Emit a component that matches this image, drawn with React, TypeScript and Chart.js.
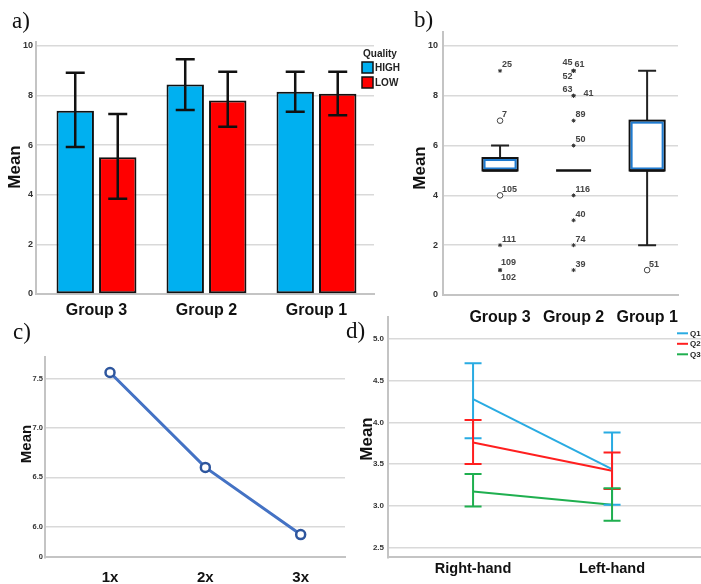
import React, { useEffect, useRef } from 'react';
import { Chart, registerables } from 'chart.js';
Chart.register(...registerables);

const SANS = "'Liberation Sans', Arial, sans-serif";
const SERIF = "'Liberation Serif', 'Times New Roman', serif";
const TICK_COLOR = '#333333';
const GRID_COLOR = '#d9d9d9';
const AXIS_COLOR = '#c4c4c4';

// ---------- Panel a: grouped bars with error bars ----------
const groupsA = ['Group 3', 'Group 2', 'Group 1'];
const qualityLabels = ['HIGH', 'LOW'];
const highMean = [7.38, 8.44, 8.15];
const highLower = [5.92, 7.41, 7.34];
const highUpper = [8.91, 9.46, 8.95];
const lowMean = [5.51, 7.79, 8.07];
const lowLower = [3.84, 6.74, 7.2];
const lowUpper = [7.25, 8.95, 8.95];
const ticksA = [0, 2, 4, 6, 8, 10];

// ---------- Panel b: box plot ----------
const groupsB = ['Group 3', 'Group 2', 'Group 1'];
const boxMin = [5, 5, 2];
const boxQ1 = [5, 5, 5];
const boxMedian = [5, 5, 5];
const boxQ3 = [5.5, 5, 7];
const boxMax = [6, 5, 9];
const ticksB = [0, 2, 4, 6, 8, 10];
// extreme values (stars)
const extremeGroup = [0, 0, 0, 0, 1, 1, 1, 1, 1, 1, 1, 1, 1, 1, 1];
const extremeValue = [9, 2, 1, 1, 9, 9, 9, 8, 8, 7, 6, 4, 3, 2, 1];
const extremeId = ['25', '111', '109', '102', '45', '61', '52', '63', '41', '89', '50', '116', '40', '74', '39'];
// outliers (circles)
const outlierGroup = [0, 0, 2];
const outlierValue = [7, 4, 1];
const outlierId = ['7', '105', '51'];

// ---------- Panel c: line ----------
const repsC = ['1x', '2x', '3x'];
const meanC = [7.56, 6.6, 5.92];
const tickValuesC = [6.0, 6.5, 7.0, 7.5];
const tickLabelsC = ['6.0', '6.5', '7.0', '7.5'];
const axisBreakLabelC = '0';

// ---------- Panel d: lines with error bars ----------
const handsD = ['Right-hand', 'Left-hand'];
const seriesD = ['Q1', 'Q2', 'Q3'];
const q1Mean = [4.28, 3.44];
const q1Lower = [3.81, 3.01];
const q1Upper = [4.71, 3.88];
const q2Mean = [3.76, 3.42];
const q2Lower = [3.5, 3.2];
const q2Upper = [4.03, 3.64];
const q3Mean = [3.17, 3.01];
const q3Lower = [2.99, 2.82];
const q3Upper = [3.38, 3.21];
const ticksD = [2.5, 3.0, 3.5, 4.0, 4.5, 5.0];

// label placement style for box plot point labels
const labelPlace: Record<string, [number, number, CanvasTextAlign]> = {
  '45': [-1, -8, 'right'],
  '52': [-1, 6, 'right'],
  '63': [-1, -6, 'right'],
  '41': [10, -2, 'left'],
  '102': [1, 7, 'left'],
  '109': [1, -8, 'left'],
  '61': [1, -6, 'left'],
};

function tickFont(size: number) {
  return { family: SANS, size, weight: 'bold' as const };
}

function ChartCanvas(props: { left: number; top: number; width: number; height: number; make: () => any }) {
  const ref = useRef<HTMLCanvasElement>(null);
  useEffect(() => {
    const chart = new Chart(ref.current as HTMLCanvasElement, props.make());
    return () => chart.destroy();
  }, []);
  return (
    <canvas
      ref={ref}
      width={props.width}
      height={props.height}
      style={{ position: 'absolute', left: props.left, top: props.top, width: props.width, height: props.height }}
    />
  );
}

function makeA() {
  const errPlugin = {
    id: 'errA',
    afterDatasetsDraw(chart: any) {
      const { ctx, scales } = chart;
      const lows = [highLower, lowLower];
      const ups = [highUpper, lowUpper];
      ctx.save();
      ctx.strokeStyle = '#111';
      ctx.lineWidth = 2.5;
      for (let d = 0; d < 2; d++) {
        const meta = chart.getDatasetMeta(d);
        meta.data.forEach((bar: any, i: number) => {
          const x = bar.x;
          const y1 = scales.y.getPixelForValue(lows[d][i]);
          const y2 = scales.y.getPixelForValue(ups[d][i]);
          ctx.beginPath();
          ctx.moveTo(x, y1);
          ctx.lineTo(x, y2);
          ctx.moveTo(x - 9.5, y1);
          ctx.lineTo(x + 9.5, y1);
          ctx.moveTo(x - 9.5, y2);
          ctx.lineTo(x + 9.5, y2);
          ctx.stroke();
        });
      }
      ctx.restore();
    },
  };
  const legendPlugin = {
    id: 'legA',
    afterDraw(chart: any) {
      const { ctx, chartArea } = chart;
      const x0 = chartArea.right - 12;
      ctx.save();
      ctx.fillStyle = '#222';
      ctx.font = `bold 10px ${SANS}`;
      ctx.textBaseline = 'middle';
      ctx.textAlign = 'left';
      ctx.fillText('Quality', x0 + 1, 54);
      chart.data.datasets.forEach((ds: any, i: number) => {
        const y = 62 + i * 15;
        ctx.fillStyle = ds.backgroundColor;
        ctx.fillRect(x0, y, 11, 11);
        ctx.strokeStyle = '#111';
        ctx.lineWidth = 1.5;
        ctx.strokeRect(x0, y, 11, 11);
        ctx.fillStyle = '#222';
        ctx.fillText(ds.label, x0 + 13, y + 6);
      });
      ctx.restore();
    },
  };
  return {
    type: 'bar',
    data: {
      datasets: [
        {
          label: qualityLabels[0],
          data: highMean.map((v, i) => ({ x: i + 1, y: v })),
          backgroundColor: '#00B0F0',
          borderColor: '#111',
          borderWidth: 2,
          borderSkipped: false,
        },
        {
          label: qualityLabels[1],
          data: lowMean.map((v, i) => ({ x: i + 1, y: v })),
          backgroundColor: '#FF0000',
          borderColor: '#111',
          borderWidth: 2,
          borderSkipped: false,
        },
      ],
    },
    options: {
      responsive: false,
      animation: false,
      layout: { padding: { left: 0, top: 42, right: 36, bottom: 0 } },
      plugins: { legend: { display: false }, tooltip: { enabled: false } },
      datasets: { bar: { categoryPercentage: 0.773, barPercentage: 0.88 } },
      scales: {
        x: {
          type: 'linear',
          offset: false,
          min: 0.45,
          max: 3.523,
          afterBuildTicks: (s: any) => {
            s.ticks = groupsA.map((_, i) => ({ value: i + 1 }));
          },
          afterFit: (s: any) => {
            s.height = 36;
          },
          ticks: {
            callback: (v: number) => groupsA[Math.round(v) - 1],
            font: tickFont(16),
            color: '#111',
            padding: 7,
            autoSkip: false,
            maxRotation: 0,
          },
          grid: { color: 'transparent', drawTicks: false, offset: false },
          border: { color: AXIS_COLOR, width: 2 },
        },
        y: {
          min: 0,
          max: 10.15,
          afterBuildTicks: (s: any) => {
            s.ticks = ticksA.map((v) => ({ value: v }));
          },
          afterFit: (s: any) => {
            s.width = 36;
          },
          ticks: { font: tickFont(9), color: TICK_COLOR, padding: 3 },
          grid: { color: GRID_COLOR, lineWidth: 1.5, drawTicks: false },
          border: { color: AXIS_COLOR, width: 2 },
        },
      },
    },
    plugins: [errPlugin, legendPlugin],
  };
}

function makeB() {
  const boxPlugin = {
    id: 'boxB',
    beforeDatasetsDraw(chart: any) {
      const { ctx, scales } = chart;
      const xs = scales.x;
      const ys = scales.y;
      ctx.save();
      groupsB.forEach((_, i) => {
        const cx = xs.getPixelForValue(i + 1);
        const half = 17.5;
        const yMin = ys.getPixelForValue(boxMin[i]);
        const yMax = ys.getPixelForValue(boxMax[i]);
        const yQ1 = ys.getPixelForValue(boxQ1[i]);
        const yQ3 = ys.getPixelForValue(boxQ3[i]);
        const yMed = ys.getPixelForValue(boxMedian[i]);
        ctx.strokeStyle = '#222';
        ctx.lineWidth = 2;
        // whiskers
        ctx.beginPath();
        if (yMax < yQ3) {
          ctx.moveTo(cx, yQ3);
          ctx.lineTo(cx, yMax);
          ctx.moveTo(cx - 9, yMax);
          ctx.lineTo(cx + 9, yMax);
        }
        if (yMin > yQ1) {
          ctx.moveTo(cx, yQ1);
          ctx.lineTo(cx, yMin);
          ctx.moveTo(cx - 9, yMin);
          ctx.lineTo(cx + 9, yMin);
        }
        ctx.stroke();
        // box
        if (yQ1 - yQ3 > 1) {
          ctx.fillStyle = '#ffffff';
          ctx.fillRect(cx - half, yQ3, half * 2, yQ1 - yQ3);
          ctx.strokeStyle = '#111';
          ctx.lineWidth = 2;
          ctx.strokeRect(cx - half, yQ3, half * 2, yQ1 - yQ3);
          ctx.strokeStyle = '#1F7BD0';
          ctx.lineWidth = 2;
          ctx.strokeRect(cx - half + 2, yQ3 + 2, half * 2 - 4, yQ1 - yQ3 - 4);
        }
        // median
        ctx.strokeStyle = '#111';
        ctx.lineWidth = 2.5;
        ctx.beginPath();
        ctx.moveTo(cx - half, yMed);
        ctx.lineTo(cx + half, yMed);
        ctx.stroke();
      });
      ctx.restore();
    },
    afterDatasetsDraw(chart: any) {
      const { ctx, scales } = chart;
      ctx.save();
      ctx.font = `bold 9px ${SANS}`;
      ctx.fillStyle = '#444';
      ctx.textBaseline = 'middle';
      const put = (g: number, v: number, id: string) => {
        const x = scales.x.getPixelForValue(g + 1);
        const y = scales.y.getPixelForValue(v);
        const p = labelPlace[id] || [2, -6, 'left'];
        ctx.textAlign = p[2];
        ctx.fillText(id, x + p[0], y + p[1]);
      };
      extremeId.forEach((id, i) => put(extremeGroup[i], extremeValue[i], id));
      outlierId.forEach((id, i) => put(outlierGroup[i], outlierValue[i], id));
      ctx.restore();
    },
  };
  return {
    type: 'scatter',
    data: {
      datasets: [
        {
          label: 'extreme',
          data: extremeValue.map((v, i) => ({ x: extremeGroup[i] + 1, y: v })),
          pointStyle: 'star',
          pointRadius: 2,
          borderColor: '#333',
          borderWidth: 1,
        },
        {
          label: 'outlier',
          data: outlierValue.map((v, i) => ({ x: outlierGroup[i] + 1, y: v })),
          pointStyle: 'circle',
          pointRadius: 2.8,
          backgroundColor: '#fff',
          borderColor: '#444',
          borderWidth: 1,
        },
      ],
    },
    options: {
      responsive: false,
      animation: false,
      layout: { padding: { left: 0, top: 32, right: 23, bottom: 0 } },
      plugins: { legend: { display: false }, tooltip: { enabled: false } },
      scales: {
        x: {
          type: 'linear',
          offset: false,
          min: 0.224,
          max: 3.42,
          afterBuildTicks: (s: any) => {
            s.ticks = groupsB.map((_, i) => ({ value: i + 1 }));
          },
          afterFit: (s: any) => {
            s.height = 35;
          },
          ticks: {
            callback: (v: number) => groupsB[Math.round(v) - 1],
            font: tickFont(16),
            color: '#111',
            padding: 13,
            autoSkip: false,
            maxRotation: 0,
          },
          grid: { color: 'transparent', drawTicks: false },
          border: { color: AXIS_COLOR, width: 2 },
        },
        y: {
          min: 0,
          max: 10.56,
          afterBuildTicks: (s: any) => {
            s.ticks = ticksB.map((v) => ({ value: v }));
          },
          afterFit: (s: any) => {
            s.width = 43;
          },
          ticks: { font: tickFont(9), color: TICK_COLOR, padding: 5 },
          grid: { color: GRID_COLOR, lineWidth: 1.5, drawTicks: false },
          border: { color: AXIS_COLOR, width: 2 },
        },
      },
    },
    plugins: [boxPlugin],
  };
}

function makeC() {
  const yMin = 5.69;
  return {
    type: 'line',
    data: {
      datasets: [
        {
          label: 'Mean',
          data: meanC.map((v, i) => ({ x: i + 1, y: v })),
          borderColor: '#4472C4',
          borderWidth: 3,
          pointRadius: 4.5,
          pointBorderWidth: 2.5,
          pointBackgroundColor: '#ffffff',
          pointBorderColor: '#2E569E',
          tension: 0,
        },
      ],
    },
    options: {
      responsive: false,
      animation: false,
      layout: { padding: { left: 0, top: 26.7, right: 15, bottom: 0 } },
      plugins: { legend: { display: false }, tooltip: { enabled: false } },
      scales: {
        x: {
          type: 'linear',
          offset: false,
          min: 0.318,
          max: 3.465,
          afterBuildTicks: (s: any) => {
            s.ticks = repsC.map((_, i) => ({ value: i + 1 }));
          },
          afterFit: (s: any) => {
            s.height = 26.7;
          },
          ticks: {
            callback: (v: number) => repsC[Math.round(v) - 1],
            font: tickFont(15),
            color: '#111',
            padding: 12,
            autoSkip: false,
            maxRotation: 0,
          },
          grid: { color: 'transparent', drawTicks: false },
          border: { color: AXIS_COLOR, width: 2 },
        },
        y: {
          min: yMin,
          max: 7.72,
          afterBuildTicks: (s: any) => {
            s.ticks = [{ value: yMin }, ...tickValuesC.map((v) => ({ value: v }))];
          },
          afterFit: (s: any) => {
            s.width = 45;
          },
          ticks: {
            font: tickFont(7.5),
            color: TICK_COLOR,
            padding: 2,
            callback: (v: number) => {
              const idx = tickValuesC.indexOf(v);
              return idx >= 0 ? tickLabelsC[idx] : axisBreakLabelC;
            },
          },
          grid: {
            color: (c: any) => (c.tick && c.tick.value === yMin ? 'transparent' : GRID_COLOR),
            lineWidth: 1.5,
            drawTicks: false,
          },
          border: { color: AXIS_COLOR, width: 2 },
        },
      },
    },
  };
}

function makeD() {
  const colors = ['#29ABE2', '#FF1F1F', '#1FAF4F'];
  const means = [q1Mean, q2Mean, q3Mean];
  const lows = [q1Lower, q2Lower, q3Lower];
  const ups = [q1Upper, q2Upper, q3Upper];
  const errPlugin = {
    id: 'errD',
    afterDatasetsDraw(chart: any) {
      const { ctx, scales } = chart;
      ctx.save();
      ctx.lineWidth = 2;
      for (let d = 0; d < 3; d++) {
        ctx.strokeStyle = colors[d];
        handsD.forEach((_, i) => {
          const x = scales.x.getPixelForValue(i + 1);
          const y1 = scales.y.getPixelForValue(lows[d][i]);
          const y2 = scales.y.getPixelForValue(ups[d][i]);
          ctx.beginPath();
          ctx.moveTo(x, y1);
          ctx.lineTo(x, y2);
          ctx.moveTo(x - 8.5, y1);
          ctx.lineTo(x + 8.5, y1);
          ctx.moveTo(x - 8.5, y2);
          ctx.lineTo(x + 8.5, y2);
          ctx.stroke();
        });
      }
      ctx.restore();
    },
    afterDraw(chart: any) {
      const { ctx, chartArea } = chart;
      ctx.save();
      ctx.font = `bold 8px ${SANS}`;
      ctx.textBaseline = 'middle';
      ctx.textAlign = 'left';
      chart.data.datasets.forEach((ds: any, i: number) => {
        const y = chartArea.top + 16.6 + i * 10.5;
        const x = chartArea.right - 24;
        ctx.strokeStyle = ds.borderColor;
        ctx.lineWidth = 2;
        ctx.beginPath();
        ctx.moveTo(x, y);
        ctx.lineTo(x + 11, y);
        ctx.stroke();
        ctx.fillStyle = '#222';
        ctx.fillText(ds.label, x + 13, y);
      });
      ctx.restore();
    },
  };
  return {
    type: 'line',
    data: {
      datasets: seriesD.map((name, d) => ({
        label: name,
        data: means[d].map((v, i) => ({ x: i + 1, y: v })),
        borderColor: colors[d],
        borderWidth: 2,
        pointRadius: 0,
        tension: 0,
      })),
    },
    options: {
      responsive: false,
      animation: false,
      layout: { padding: { left: 0, top: 16.7, right: 0, bottom: 0 } },
      plugins: { legend: { display: false }, tooltip: { enabled: false } },
      scales: {
        x: {
          type: 'linear',
          offset: false,
          min: 0.388,
          max: 2.64,
          afterBuildTicks: (s: any) => {
            s.ticks = handsD.map((_, i) => ({ value: i + 1 }));
          },
          afterFit: (s: any) => {
            s.height = 26.7;
          },
          ticks: {
            callback: (v: number) => handsD[Math.round(v) - 1],
            font: tickFont(14.5),
            color: '#111',
            padding: 3,
            autoSkip: false,
            maxRotation: 0,
          },
          grid: { color: 'transparent', drawTicks: false },
          border: { color: AXIS_COLOR, width: 2 },
        },
        y: {
          min: 2.38,
          max: 5.27,
          afterBuildTicks: (s: any) => {
            s.ticks = ticksD.map((v) => ({ value: v }));
          },
          afterFit: (s: any) => {
            s.width = 48;
          },
          ticks: {
            font: tickFont(8),
            color: TICK_COLOR,
            padding: 4,
            callback: (v: number) => v.toFixed(1),
          },
          grid: { color: GRID_COLOR, lineWidth: 1.5, drawTicks: false },
          border: { color: AXIS_COLOR, width: 2 },
        },
      },
    },
    plugins: [errPlugin],
  };
}

function RotLabel(props: { x: number; y: number; size: number; text: string }) {
  return (
    <div
      style={{
        position: 'absolute',
        left: props.x,
        top: props.y,
        transform: 'translate(-50%, -50%) rotate(-90deg)',
        fontFamily: SANS,
        fontWeight: 'bold',
        fontSize: props.size,
        lineHeight: 1,
        color: '#111',
        whiteSpace: 'nowrap',
      }}
    >
      {props.text}
    </div>
  );
}

function PanelLetter(props: { x: number; y: number; text: string }) {
  return (
    <div
      style={{
        position: 'absolute',
        left: props.x,
        top: props.y - 12,
        fontFamily: SERIF,
        fontSize: 23,
        lineHeight: '24px',
        color: '#111',
        whiteSpace: 'nowrap',
      }}
    >
      {props.text}
    </div>
  );
}

export default function App() {
  return (
    <div
      style={{
        position: 'fixed',
        left: 0,
        top: 0,
        width: 701,
        height: 584,
        background: '#ffffff',
        overflow: 'hidden',
      }}
    >
      <ChartCanvas left={0} top={0} width={410} height={330} make={makeA} />
      <ChartCanvas left={400} top={0} width={301} height={330} make={makeB} />
      <ChartCanvas left={0} top={330} width={360} height={254} make={makeC} />
      <ChartCanvas left={340} top={300} width={361} height={284} make={makeD} />
      <PanelLetter x={12} y={21} text="a)" />
      <PanelLetter x={414} y={20} text="b)" />
      <PanelLetter x={13} y={332} text="c)" />
      <PanelLetter x={346} y={331} text="d)" />
      <RotLabel x={14} y={167} size={17} text="Mean" />
      <RotLabel x={419} y={168} size={17} text="Mean" />
      <RotLabel x={25} y={444} size={15} text="Mean" />
      <RotLabel x={366} y={439} size={17} text="Mean" />
    </div>
  );
}
